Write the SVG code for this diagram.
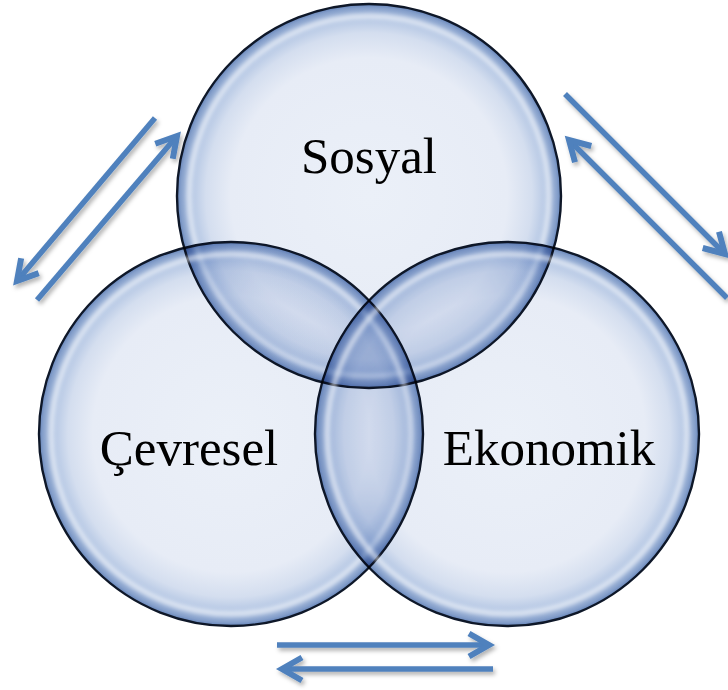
<svg xmlns="http://www.w3.org/2000/svg" width="728" height="690" viewBox="0 0 728 690">
  <style>
    .bubble { fill: url(#bubbleFill); stroke: #0e1728; stroke-width: 2.4; mix-blend-mode: multiply; }
    .gloss { fill: none; stroke: #ffffff; stroke-width: 5; stroke-opacity: 0.6; filter: url(#soft); }
    .label { font-family: "Liberation Serif", "Times New Roman", serif; font-size: 51px; fill: #000000; text-anchor: middle; }
    .flow { fill: none; stroke: #4f81bd; stroke-width: 5.5; marker-end: url(#head); }
  </style>
  <defs>
    <radialGradient id="bubbleFill" cx="50%" cy="50%" r="50%">
      <stop offset="0%" stop-color="#ebf0f8"/>
      <stop offset="72%" stop-color="#e7ecf6"/>
      <stop offset="85%" stop-color="#d4deef"/>
      <stop offset="93%" stop-color="#b2c5e3"/>
      <stop offset="98%" stop-color="#86a0cb"/>
      <stop offset="100%" stop-color="#6584b9"/>
    </radialGradient>
    <filter id="soft" x="-10%" y="-10%" width="120%" height="120%">
      <feGaussianBlur stdDeviation="2.2"/>
    </filter>
    <filter id="shadow" x="-10%" y="-10%" width="130%" height="130%">
      <feDropShadow dx="2" dy="3" stdDeviation="2" flood-color="#000000" flood-opacity="0.3"/>
    </filter>
    <marker id="head" markerUnits="userSpaceOnUse" markerWidth="40" markerHeight="40" viewBox="-30 -20 40 40" refX="0" refY="0" orient="auto" overflow="visible">
      <path d="M-20,-11.5 L0,0 L-20,11.5" fill="none" stroke="#4f81bd" stroke-width="6" stroke-linejoin="miter"/>
    </marker>
  </defs>

  <rect width="728" height="690" fill="#ffffff"/>

  <!-- two-way arrows between the three circles -->
  <g id="connectors" filter="url(#shadow)">
    <line class="flow" x1="155" y1="118" x2="17" y2="281"/>
    <line class="flow" x1="37" y1="300" x2="177" y2="136"/>
    <line class="flow" x1="565" y1="94" x2="725" y2="254"/>
    <line class="flow" x1="727" y1="298" x2="569" y2="140"/>
    <line class="flow" x1="277" y1="645" x2="489" y2="645"/>
    <line class="flow" x1="493" y1="669" x2="282" y2="669"/>
  </g>

  <g id="sosyal">
    <circle class="bubble" cx="369" cy="196" r="192"/>
    <circle class="gloss" cx="369" cy="196" r="180"/>
    <text class="label" x="369" y="173">Sosyal</text>
  </g>

  <g id="cevresel">
    <circle class="bubble" cx="231" cy="434" r="192"/>
    <circle class="gloss" cx="231" cy="434" r="180"/>
    <text class="label" x="189" y="465">Çevresel</text>
  </g>

  <g id="ekonomik">
    <circle class="bubble" cx="507" cy="434" r="192"/>
    <circle class="gloss" cx="507" cy="434" r="180"/>
    <text class="label" x="549" y="465">Ekonomik</text>
  </g>
</svg>
